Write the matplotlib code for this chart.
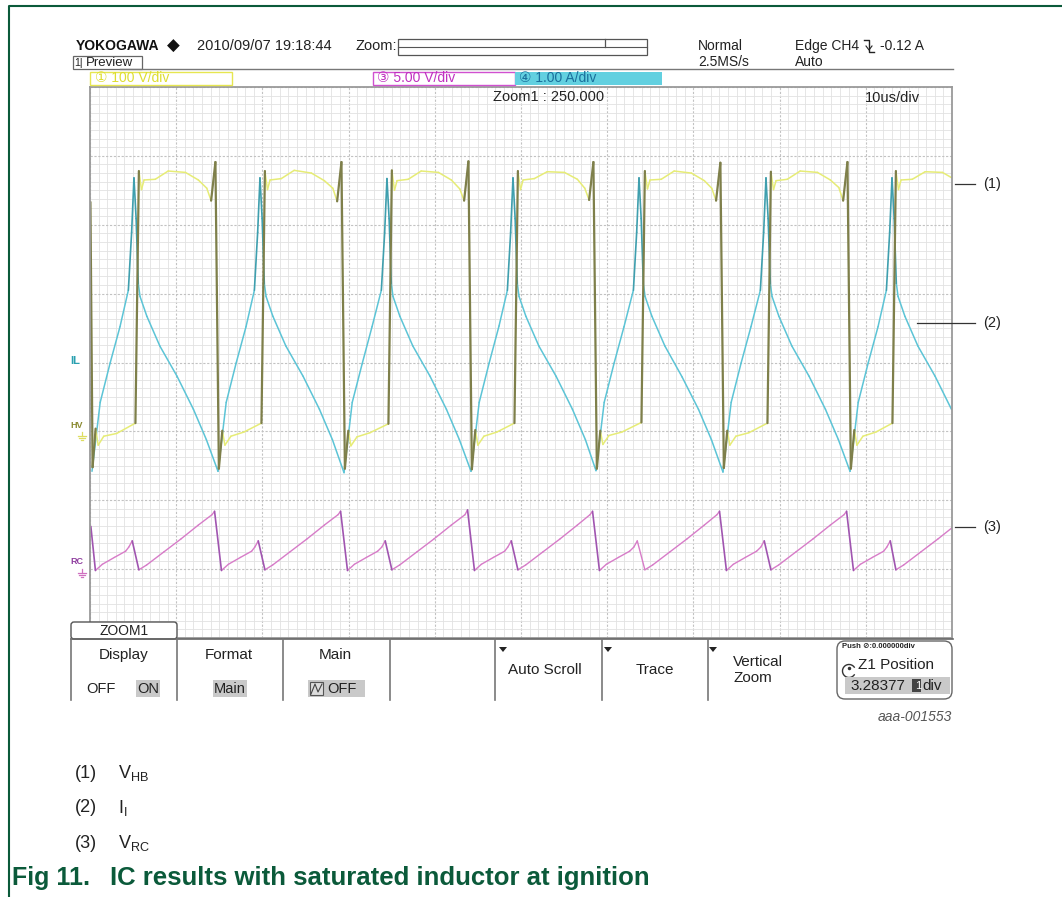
import numpy as np
import matplotlib
matplotlib.use("Agg")
import matplotlib.pyplot as plt
from matplotlib.collections import LineCollection
from matplotlib.patches import Rectangle, FancyBboxPatch, Arc, Polygon

plt.rcParams['font.family'] = ['Liberation Sans', 'DejaVu Sans']
plt.rcParams['mathtext.default'] = 'regular'

# time in us (10 us/div), amplitude in divisions from the screen centre line

# (1) V_HB  - CH1, 100 V/div
vhb_t = [0.05, 0.30, 0.65, 0.95, 1.60, 3.10,
         5.27, 5.67, 5.97, 6.27, 7.57, 9.07, 11.07, 12.57,
         13.55, 14.05, 14.55, 14.95, 15.35, 15.65, 16.35, 17.85,
         19.89, 20.29, 20.59, 20.89, 22.19, 23.69, 25.69, 27.19,
         28.17, 28.67, 29.17, 29.57, 29.97, 30.27, 30.97, 32.47,
         34.62, 35.02, 35.32, 35.62, 36.92, 38.42, 40.42, 41.92,
         42.90, 43.40, 43.90, 44.30, 44.70, 45.00, 45.70, 47.20,
         49.24, 49.64, 49.94, 50.24, 51.54, 53.04, 55.04, 56.54,
         57.40, 57.90, 58.40, 58.80, 59.20, 59.50, 60.20, 61.70,
         63.97, 64.37, 64.67, 64.97, 66.27, 67.77, 69.77, 71.27,
         72.13, 72.63, 73.13, 73.53, 73.93, 74.23, 74.93, 76.43,
         78.59, 78.99, 79.29, 79.59, 80.89, 82.39, 84.39, 85.89,
         86.87, 87.37, 87.87, 88.27, 88.67, 88.97, 89.67, 91.17,
         93.09, 93.49, 93.79, 94.09, 95.39, 96.89, 98.89, 100.0]
vhb_v = [2.33, -1.52, -0.96, -1.20, -1.07, -1.03,
         -0.88, 2.78, 2.51, 2.65, 2.66, 2.78, 2.76, 2.65,
         2.53, 2.35, 2.91, -1.54, -0.99, -1.20, -1.07, -1.01,
         -0.88, 2.78, 2.51, 2.65, 2.67, 2.79, 2.75, 2.64,
         2.53, 2.34, 2.91, -1.54, -0.99, -1.21, -1.08, -1.02,
         -0.89, 2.79, 2.50, 2.64, 2.66, 2.78, 2.76, 2.65,
         2.52, 2.35, 2.92, -1.55, -0.98, -1.20, -1.07, -1.01,
         -0.88, 2.78, 2.51, 2.65, 2.67, 2.77, 2.76, 2.66,
         2.53, 2.36, 2.91, -1.54, -0.99, -1.19, -1.06, -1.01,
         -0.87, 2.78, 2.52, 2.65, 2.66, 2.78, 2.75, 2.64,
         2.53, 2.35, 2.90, -1.53, -0.99, -1.20, -1.07, -1.02,
         -0.88, 2.77, 2.51, 2.64, 2.66, 2.78, 2.76, 2.65,
         2.54, 2.35, 2.91, -1.54, -0.98, -1.20, -1.07, -1.01,
         -0.88, 2.78, 2.51, 2.65, 2.66, 2.77, 2.76, 2.68]

# (2) I_L  - CH4, 1.00 A/div
il_t = [0.23, 1.18, 2.33, 3.48,
        4.45, 4.83, 5.10, 5.35, 5.60, 5.80, 6.60, 8.10, 10.10, 12.00, 13.50,
        14.85, 15.80, 16.95, 18.10,
        19.07, 19.45, 19.72, 19.97, 20.22, 20.42, 21.22, 22.72, 24.72, 26.62, 28.12,
        29.47, 30.42, 31.57, 32.72,
        33.80, 34.18, 34.45, 34.70, 34.95, 35.15, 35.95, 37.45, 39.45, 41.35, 42.85,
        44.20, 45.15, 46.30, 47.45,
        48.42, 48.80, 49.07, 49.32, 49.57, 49.77, 50.57, 52.07, 54.07, 55.97, 57.47,
        58.70, 59.65, 60.80, 61.95,
        63.04, 63.42, 63.69, 63.94, 64.19, 64.39, 65.19, 66.69, 68.69, 70.59, 72.09,
        73.43, 74.38, 75.53, 76.68,
        77.77, 78.15, 78.42, 78.67, 78.92, 79.12, 79.92, 81.42, 83.42, 85.32, 86.82,
        88.17, 89.12, 90.27, 91.42,
        92.39, 92.77, 93.04, 93.29, 93.54, 93.74, 94.54, 96.04, 98.04, 99.94]
il_v = [-1.58, -0.58, -0.01, 0.52,
        1.05, 1.89, 2.68, 2.09, 1.15, 0.96, 0.67, 0.24, -0.20, -0.68, -1.12,
        -1.58, -0.58, -0.01, 0.52,
        1.05, 1.89, 2.68, 2.09, 1.15, 0.96, 0.67, 0.24, -0.20, -0.68, -1.12,
        -1.60, -0.58, -0.02, 0.52,
        1.05, 1.88, 2.67, 2.09, 1.15, 0.96, 0.67, 0.24, -0.20, -0.68, -1.12,
        -1.58, -0.58, -0.01, 0.53,
        1.05, 1.89, 2.68, 2.09, 1.15, 0.96, 0.67, 0.24, -0.20, -0.68, -1.12,
        -1.57, -0.58, -0.01, 0.52,
        1.05, 1.89, 2.68, 2.09, 1.15, 0.96, 0.67, 0.24, -0.21, -0.68, -1.12,
        -1.59, -0.58, -0.01, 0.52,
        1.05, 1.89, 2.68, 2.09, 1.15, 0.96, 0.67, 0.24, -0.20, -0.68, -1.12,
        -1.58, -0.58, -0.01, 0.52,
        1.05, 1.89, 2.68, 2.09, 1.15, 0.96, 0.67, 0.24, -0.20, -0.68]

# (3) V_RC  - CH3, 5.00 V/div
vrc_t = [0.10, 0.63, 1.43, 2.83, 4.13, 4.50, 4.90,
         5.67, 6.57, 8.57, 10.57, 12.57, 14.15, 14.45,
         15.25, 16.05, 17.45, 18.75, 19.12, 19.52,
         20.29, 21.19, 23.19, 25.19, 27.19, 28.77, 29.07,
         29.87, 30.67, 32.07, 33.37, 33.85, 34.25,
         35.02, 35.92, 37.92, 39.92, 41.92, 43.50, 43.80,
         44.60, 45.40, 46.80, 48.10, 48.47, 48.87,
         49.64, 50.54, 52.54, 54.54, 56.54, 58.00, 58.30,
         59.10, 59.90, 61.30, 62.60, 63.09, 63.49,
         64.37, 65.27, 67.27, 69.27, 71.27, 72.73, 73.03,
         73.83, 74.63, 76.03, 77.33, 77.82, 78.22,
         78.99, 79.89, 81.89, 83.89, 85.89, 87.47, 87.77,
         88.57, 89.37, 90.77, 92.07, 92.44, 92.84,
         93.49, 94.39, 96.39, 98.39, 100.0]
vrc_v = [-2.38, -3.02, -2.93, -2.83, -2.74, -2.68, -2.59,
         -3.01, -2.94, -2.75, -2.56, -2.36, -2.21, -2.16,
         -3.02, -2.93, -2.83, -2.74, -2.68, -2.59,
         -3.01, -2.94, -2.75, -2.56, -2.36, -2.21, -2.16,
         -3.02, -2.93, -2.83, -2.74, -2.68, -2.59,
         -3.01, -2.94, -2.75, -2.56, -2.36, -2.21, -2.14,
         -3.02, -2.93, -2.83, -2.74, -2.68, -2.59,
         -3.01, -2.94, -2.75, -2.56, -2.36, -2.21, -2.16,
         -3.02, -2.93, -2.83, -2.74, -2.68, -2.59,
         -3.01, -2.94, -2.75, -2.56, -2.36, -2.21, -2.16,
         -3.02, -2.93, -2.83, -2.74, -2.68, -2.59,
         -3.01, -2.94, -2.75, -2.56, -2.36, -2.21, -2.16,
         -3.02, -2.93, -2.83, -2.74, -2.68, -2.59,
         -3.01, -2.94, -2.75, -2.56, -2.40]

channel_labels = ['100 V/div', '5.00 V/div', '1.00 A/div']
trace_tags = ['(1)', '(2)', '(3)']
legend_names = [r'V$_{HB}$', r'I$_{I}$', r'V$_{RC}$']
menu_titles = ['Display', 'Format', 'Main', 'Auto Scroll', 'Trace']
caption = 'IC results with saturated inductor at ignition'

W, H = 1062, 897
fig = plt.figure(figsize=(W / 100, H / 100), dpi=100)
fig.patch.set_facecolor('white')

# ---------------- scope screen -----------------
gx0, gx1, gy0, gy1 = 90, 952, 87, 638
ax = fig.add_axes([gx0 / W, 1 - gy1 / H, (gx1 - gx0) / W, (gy1 - gy0) / H])
ax.set_zorder(1)
ax.set_xlim(0, 100)
ax.set_ylim(-4, 4)
ax.set_xticks(np.arange(0, 101, 10))
ax.set_xticks(np.arange(0, 101, 1), minor=True)
ax.set_yticks(np.arange(-4, 5, 1))
ax.set_yticks(np.arange(-4, 4.01, 0.125), minor=True)
ax.grid(which='minor', color='#e2e2e2', lw=0.6)
ax.grid(which='major', color='#c2c2c2', lw=0.8, ls=(0, (2, 1.5)))
ax.tick_params(which='both', length=0, labelbottom=False, labelleft=False)
for s in ax.spines.values():
    s.set_color('#9a9a9a')
    s.set_linewidth(1.3)


def trace(t, v, color, steep_color, steep, lw, steep_lw):
    t = np.asarray(t, float)
    v = np.asarray(v, float)
    pts = np.column_stack([t, v])
    segs = np.stack([pts[:-1], pts[1:]], axis=1)
    slope = np.abs(np.diff(v)) / np.maximum(np.diff(t), 1e-6)
    m = slope > steep
    ax.add_collection(LineCollection(segs[~m], colors=color, linewidths=lw,
                                     capstyle='round', joinstyle='round'))
    ax.add_collection(LineCollection(segs[m], colors=steep_color, linewidths=steep_lw,
                                     capstyle='round', joinstyle='round'))


trace(vrc_t, vrc_v, '#d77cc8', '#a055b0', 0.5, 1.0, 1.2)
trace(il_t, il_v, '#5cc4d6', '#3f9fae', 2.0, 1.1, 1.2)
trace(vhb_t, vhb_v, '#e6ec76', '#7e7f4a', 1.0, 1.1, 1.6)

# ---------------- overlay in pixel coordinates -----------------
ov = fig.add_axes([0, 0, 1, 1])
ov.set_zorder(2)
ov.set_xlim(0, W)
ov.set_ylim(H, 0)
ov.axis('off')

green = '#0b5a3a'
ov.plot([9, 9, W], [H, 6, 6], color=green, lw=1.5, solid_capstyle='butt')

scope_font = ['Liberation Sans Narrow', 'Liberation Sans', 'DejaVu Sans']


def st(x, y, s, size=10.5, color='#222222', ha='left', **kw):
    ov.text(x, y, s, fontsize=size, color=color, ha=ha, va='center',
            family=scope_font, **kw)


def ground(x, y, color):
    ov.plot([x, x], [y - 4, y], color=color, lw=0.9)
    for dx, dy in [(4, 0), (2.7, 2), (1.3, 4)]:
        ov.plot([x - dx, x + dx], [y + dy, y + dy], color=color, lw=0.9)


# header
st(76, 46, 'YOKOGAWA', size=10, weight='bold', color='#111111')
ov.text(173, 46, '\u25c6', fontsize=12, ha='center', va='center', family='DejaVu Sans', color='#111111')
st(197, 46, '2010/09/07 19:18:44')
st(355, 46, 'Zoom:')
ov.add_patch(Rectangle((398, 39), 249, 16, fc='none', ec='#555555', lw=0.9))
ov.plot([398, 647], [47, 47], color='#555555', lw=0.8)
ov.plot([605, 605], [39, 47], color='#555555', lw=0.9)
st(698, 46, 'Normal', size=10)
st(698, 62, '2.5MS/s', size=10)
st(795, 46, 'Edge CH4', size=10)
ov.plot([864, 869, 869, 874], [40, 40, 52, 52], color='#222222', lw=1.0)
ov.plot([866, 869, 872], [46, 50, 46], color='#222222', lw=0.8)
st(880, 46, '-0.12 A', size=10)
st(795, 62, 'Auto', size=10)
ov.plot([120, 953], [69, 69], color='#777777', lw=1.0)
ov.add_patch(Rectangle((73, 56), 69, 13, fc='none', ec='#666666', lw=0.9))
st(74, 63, '1|', size=7.5)
st(86, 63, 'Preview', size=9.5)

# channel labels
ov.add_patch(Rectangle((90, 72), 142, 13, fc='white', ec='#e6e650', lw=1.0))
st(95, 78.5, '\u2460 ' + channel_labels[0], size=10, color='#dede30')
ov.add_patch(Rectangle((373, 72), 142, 13, fc='white', ec='#d050d0', lw=1.0))
st(377, 78.5, '\u2462 ' + channel_labels[1], size=10, color='#c030c0')
ov.add_patch(Rectangle((515, 72), 147, 13, fc='#62d0e0', ec='none'))
st(519, 78.5, '\u2463 ' + channel_labels[2], size=10, color='#1a6f9c')

st(493, 97, 'Zoom1 : 250.000', size=10.5)
st(865, 98, '10us/div', size=10.5)

# channel markers left of the screen
st(70, 361, 'IL', size=8, color='#2aa0b0', weight='bold')
st(70, 426, 'HV', size=6.5, color='#8a8a30', weight='bold')
ground(82, 436, '#dede60')
st(70, 561, 'RC', size=6.5, color='#9040a0', weight='bold')
ground(82, 573, '#d070c0')

# soft-key menu
ov.add_patch(FancyBboxPatch((71, 622), 106, 17, boxstyle='round,pad=0,rounding_size=3',
                            fc='white', ec='#555555', lw=1.0))
st(124, 631, 'ZOOM1', size=10, ha='center')
ov.plot([71, 953], [639, 639], color='#666666', lw=1.2)
for xd in [71, 177, 283, 390, 495, 602, 708]:
    ov.plot([xd, xd], [639, 700], color='#777777', lw=1.2)

st(124, 655, menu_titles[0], ha='center', size=11)
st(86, 689, 'OFF', size=10.5)
ov.add_patch(Rectangle((136, 680), 24, 17, fc='#c9c9c9', ec='none'))
st(148, 689, 'ON', size=10.5, ha='center')
st(229, 655, menu_titles[1], ha='center', size=11)
ov.add_patch(Rectangle((213, 680), 34, 17, fc='#c9c9c9', ec='none'))
st(230, 689, 'Main', size=10.5, ha='center')
st(335, 655, menu_titles[2], ha='center', size=11)
ov.add_patch(Rectangle((308, 680), 57, 17, fc='#c9c9c9', ec='none'))
ov.add_patch(Rectangle((310, 682), 13, 13, fc='#dddddd', ec='#555555', lw=0.8))
ov.plot([311, 315, 318, 322], [694, 684, 692, 684], color='#444444', lw=0.8)
st(327, 689, 'OFF', size=10.5)

for xa in [503, 608, 713]:
    ov.add_patch(Polygon([[xa - 4, 647], [xa + 4, 647], [xa, 652]], closed=True, fc='#222222', ec='none'))
st(508, 670, menu_titles[3], size=11)
st(655, 670, menu_titles[4], size=11, ha='center')
st(733, 662, 'Vertical', size=11)
st(733, 678, 'Zoom', size=11)

ov.add_patch(FancyBboxPatch((837, 641), 115, 58, boxstyle='round,pad=0,rounding_size=8',
                            fc='white', ec='#666666', lw=1.0))
st(842, 646, 'Push \u2298:0.000000div', size=5.5, weight='bold')
ov.add_patch(Arc((849, 671), 13, 13, theta1=30, theta2=330, color='#333333', lw=1.0))
ov.plot([849], [668], marker='.', color='#333333', ms=3)
st(858, 665, 'Z1 Position', size=11)
ov.add_patch(Rectangle((845, 677), 105, 17, fc='#c9c9c9', ec='none'))
st(850, 686, '3.28377', size=11)
ov.add_patch(Rectangle((912, 679), 9, 13, fc='#444444', ec='none'))
st(915, 686, '1', size=8, color='white')
st(922, 686, 'div', size=11)

ov.text(952, 717, 'aaa-001553', fontsize=10, style='italic', color='#555555',
        ha='right', va='center', family='Liberation Sans')

# trace annotations
for (x0, yy), tag in zip([(955, 184), (917, 323), (955, 527)], trace_tags):
    ov.plot([x0, 975], [yy, yy], color='#333333', lw=0.9)
    ov.text(983, yy, tag, fontsize=10.5, ha='left', va='center', family='Liberation Sans', color='#222222')

# legend lines
for yy, tag, name in zip([773, 808, 843], trace_tags, legend_names):
    ov.text(75, yy, tag, fontsize=13, ha='left', va='center', family='Liberation Sans', color='#222222')
    ov.text(118, yy, name, fontsize=13, ha='left', va='center', family='Liberation Sans', color='#222222')

ov.text(12, 878, 'Fig 11.', fontsize=18, weight='bold', color=green, ha='left', va='center',
        family='Liberation Sans')
ov.text(110, 878, caption, fontsize=18.5, weight='bold', color=green, ha='left', va='center',
        family='Liberation Sans')

fig.savefig('out.png', dpi=100, facecolor='white')
